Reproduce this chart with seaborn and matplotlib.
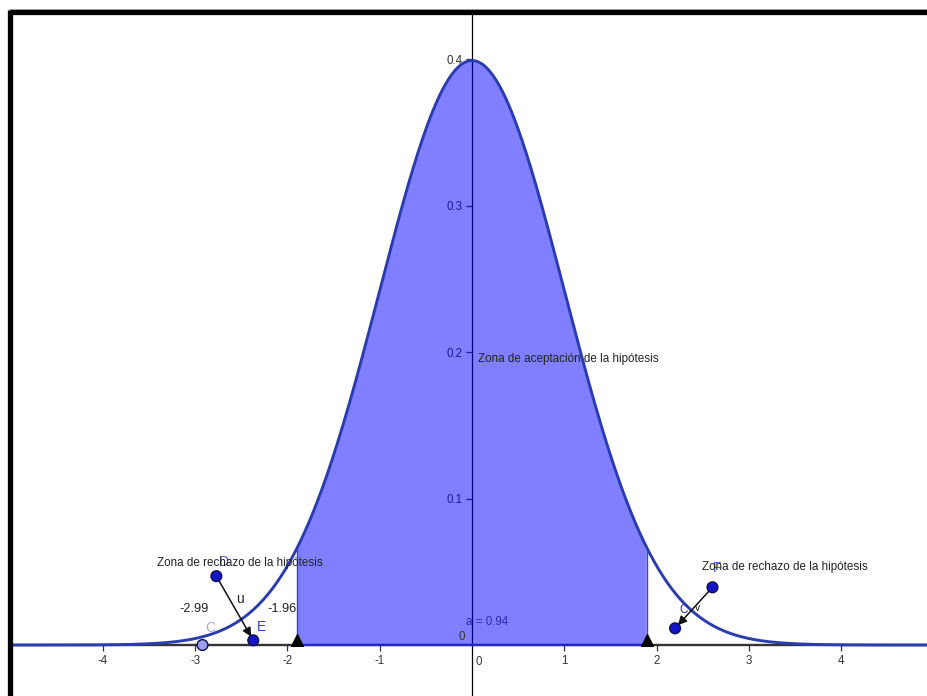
import numpy as np
import pandas as pd
import seaborn as sns
import matplotlib.pyplot as plt
from matplotlib.lines import Line2D

# normal curve N(0,1) and the acceptance zone
mu = 0.0
sigma = 1.0
x_min, x_max = -5.0, 4.94
z_crit = 1.9
alpha_area = 0.94

x_ticks = [-4, -3, -2, -1, 1, 2, 3, 4]
y_ticks = [0.1, 0.2, 0.3, 0.4]
y_tick_labels = ['0.1', '0.2', '0.3', '0.4']

# GeoGebra points
pt_names = ['D', 'E', 'C', 'F', 'G']
pt_x = [-2.77, -2.37, -2.92, 2.605, 2.20]
pt_y = [0.047, 0.0032, 0.0, 0.0394, 0.0114]
pt_kind = ['free', 'free', 'light', 'free', 'free']

# markers of the critical values on the axis
crit_x = [-z_crit, z_crit]
crit_y = [0.0035, 0.0035]

sns.set_theme(style='white')
plt.rcParams['font.family'] = ['Liberation Sans', 'DejaVu Sans']

xs = np.linspace(x_min, x_max, 600)
curve = pd.DataFrame({'x': xs, 'y': np.exp(-0.5 * ((xs - mu) / sigma) ** 2) / (sigma * np.sqrt(2 * np.pi))})

fig = plt.figure(figsize=(9.28, 6.96), dpi=100)
ax = fig.add_axes([10.5 / 928, 0, 1 - 10.5 / 928, (696 - 12) / 696])
ax.set_xlim(x_min, x_max)
ax.set_ylim(-0.0348, 0.4321)

# axes through the origin
for s in ['top', 'right']:
    ax.spines[s].set_visible(False)
ax.spines['bottom'].set_position('zero')
ax.spines['left'].set_position('zero')
ax.spines['bottom'].set_color('#333333')
ax.spines['bottom'].set_linewidth(1.7)
ax.spines['left'].set_color('black')
ax.spines['left'].set_linewidth(0.9)
ax.set_xticks(x_ticks)
ax.set_xticklabels([str(t) for t in x_ticks])
ax.set_yticks(y_ticks)
ax.set_yticklabels(y_tick_labels)
ax.tick_params(axis='both', direction='out', length=4, width=0.9, colors='#333333',
               labelsize=8.3, pad=3, bottom=True, left=True)
ax.set_xlabel('')
ax.set_ylabel('')

# acceptance zone
zone = curve[(curve['x'] >= -z_crit) & (curve['x'] <= z_crit)]
ax.fill_between(zone['x'], 0, zone['y'], color='#0000ff', alpha=0.5, lw=0, zorder=3)
ax.vlines(crit_x, 0, np.interp(crit_x, curve['x'], curve['y']), color='#3838ff', lw=1.0, zorder=3)
ax.hlines(0, -z_crit, z_crit, color='#2626d0', lw=1.6, zorder=3)

sns.lineplot(data=curve, x='x', y='y', color='#2a3cae', lw=2.1, ax=ax, zorder=4)

ax.scatter(crit_x, crit_y, marker='^', s=70, color='black', zorder=6, clip_on=False)

pts = pd.DataFrame({'name': pt_names, 'x': pt_x, 'y': pt_y, 'kind': pt_kind})
sns.scatterplot(data=pts, x='x', y='y', hue='kind', palette={'free': '#1515c8', 'light': '#9c9cf2'},
                s=60, edgecolor='#10104a', linewidth=1.0, legend=False, ax=ax, zorder=7)
ax.set_xlabel('')
ax.set_ylabel('')

# vectors u and v
p = dict(zip(pt_names, zip(pt_x, pt_y)))
for a, b in [('D', 'E'), ('F', 'G')]:
    ax.annotate('', xy=p[b], xytext=p[a],
                arrowprops=dict(arrowstyle='-|>', color='#111111', lw=1.1,
                                mutation_scale=13, shrinkA=0, shrinkB=3), zorder=6)

txt = dict(fontsize=8.4, color='#222222', zorder=8)
ax.text(-3.41, 0.056, 'Zona de rechazo de la hipótesis', ha='left', va='center', **txt)
ax.text(2.49, 0.0532, 'Zona de rechazo de la hipótesis', ha='left', va='center', **txt)
ax.text(0.065, 0.195, 'Zona de aceptación de la hipótesis', ha='left', va='center', **txt)
ax.text(-3.01, 0.0246, '-2.99', ha='center', va='center', fontsize=9.2, color='#222222', zorder=8)
ax.text(-2.06, 0.0246, '-1.96', ha='center', va='center', fontsize=9.2, color='#222222', zorder=8)
ax.text(-2.51, 0.0314, 'u', ha='center', va='center', fontsize=10, color='#222222', zorder=8)
ax.text(2.44, 0.0253, 'v', ha='center', va='center', fontsize=7.5, color='#222222', zorder=8)
ax.text(-2.28, 0.0123, 'E', ha='center', va='center', fontsize=10, color='#3344bb', zorder=8)
ax.text(-2.84, 0.0116, 'C', ha='center', va='center', fontsize=10, color='#a8a8e4', zorder=8)
ax.text(-2.69, 0.0567, 'D', ha='center', va='center', fontsize=10, color='#4b5cc8', zorder=7)
ax.text(2.66, 0.0526, 'F', ha='center', va='center', fontsize=10, color='#4b5cc8', zorder=7)
ax.text(2.29, 0.0239, 'C', ha='center', va='center', fontsize=8.5, color='#2a2ab0', zorder=8)
ax.text(-0.065, 0.0157, f'a = {alpha_area:.2f}', ha='left', va='center', fontsize=8.4,
        color='#2d2dae', zorder=8)
ax.text(-0.108, 0.0055, '0', ha='center', va='center', fontsize=8.3, color='#333333', zorder=8)
ax.text(0.076, -0.0116, '0', ha='center', va='center', fontsize=8.3, color='#333333', zorder=8)

# thick frame of the screenshot (top and left)
fig.add_artist(Line2D([10.5 / 928, 1], [1 - 12 / 696] * 2, color='black', lw=3.8, solid_capstyle='butt'))
fig.add_artist(Line2D([10.5 / 928] * 2, [0, 1 - 10 / 696], color='black', lw=3.8, solid_capstyle='butt'))
fig.add_artist(Line2D([9 / 928, 1], [1 - 8.5 / 696] * 2, color='#999999', lw=0.7))

fig.savefig('out.png', dpi=100)
